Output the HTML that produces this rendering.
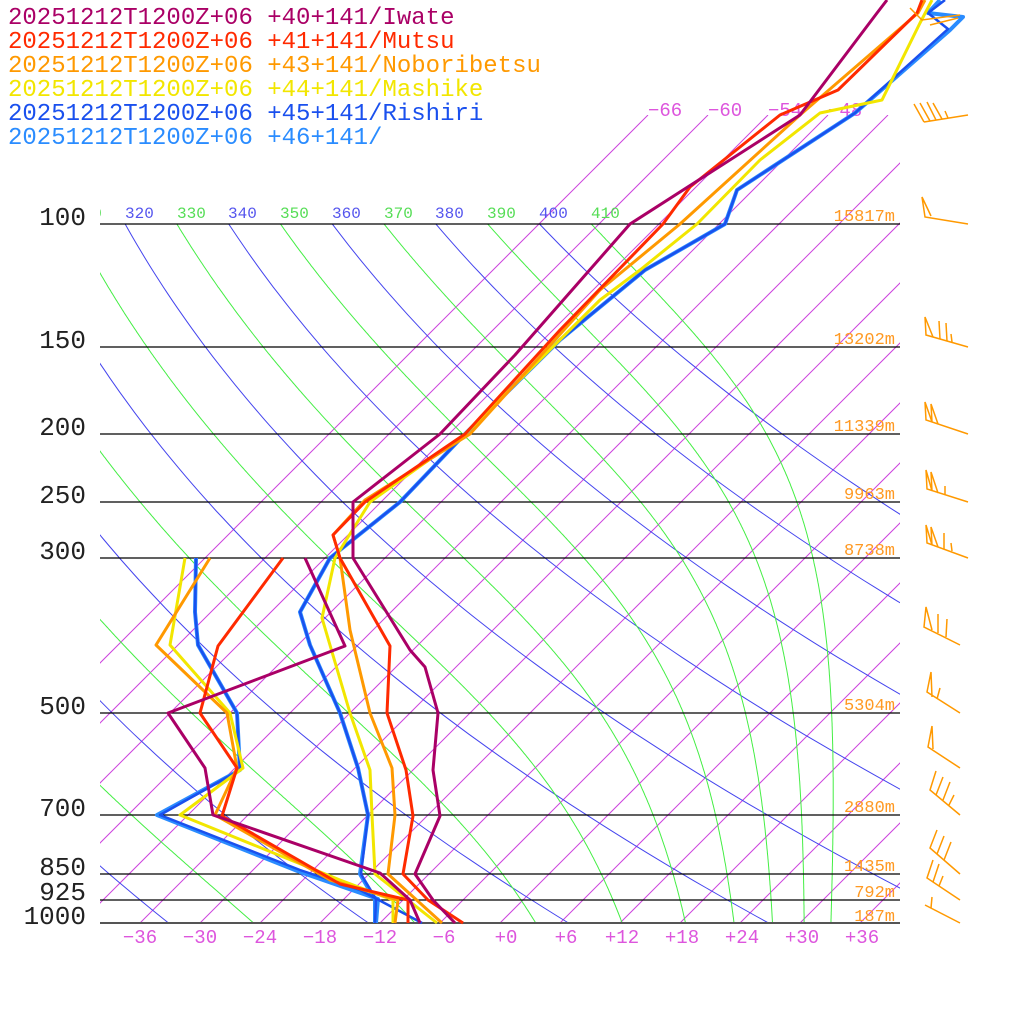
<!DOCTYPE html>
<html><head><meta charset="utf-8">
<style>
html,body{margin:0;padding:0;background:#fff;}
svg{display:block;}
text{font-family:"Liberation Mono",monospace;}
</style></head>
<body>
<svg id="s" width="1024" height="1024" viewBox="0 0 1024 1024" xmlns="http://www.w3.org/2000/svg">
<defs>
<clipPath id="ci"><rect x="100" y="115" width="800" height="808"/></clipPath>
<clipPath id="ct"><rect x="100" y="224" width="800" height="700"/></clipPath>
<clipPath id="cl"><rect x="100" y="190" width="820" height="40"/></clipPath>
</defs>
<g id="iso" clip-path="url(#ci)" stroke="#cc44dd" stroke-width="1" fill="none"></g>
<g id="the" clip-path="url(#ct)" fill="none" stroke-width="1"></g>
<g clip-path="url(#cl)" font-size="16">
<text x="73" y="218" fill="#55dd55">310</text>
<text x="125" y="218" fill="#5555ee">320</text>
<text x="177" y="218" fill="#55dd55">330</text>
<text x="228" y="218" fill="#5555ee">340</text>
<text x="280" y="218" fill="#55dd55">350</text>
<text x="332" y="218" fill="#5555ee">360</text>
<text x="384" y="218" fill="#55dd55">370</text>
<text x="435" y="218" fill="#5555ee">380</text>
<text x="487" y="218" fill="#55dd55">390</text>
<text x="539" y="218" fill="#5555ee">400</text>
<text x="591" y="218" fill="#55dd55">410</text>
</g>
<g font-size="19" fill="#dd55dd">
<text x="648" y="116">−66</text>
<text x="708" y="116">−60</text>
<text x="768" y="116">−54</text>
<text x="828" y="116">−48</text>
</g>
<g stroke="#000" stroke-width="1.3">
<line x1="100" y1="224" x2="900" y2="224"/>
<line x1="100" y1="347" x2="900" y2="347"/>
<line x1="100" y1="434" x2="900" y2="434"/>
<line x1="100" y1="502" x2="900" y2="502"/>
<line x1="100" y1="558" x2="900" y2="558"/>
<line x1="100" y1="713" x2="900" y2="713"/>
<line x1="100" y1="815" x2="900" y2="815"/>
<line x1="100" y1="874" x2="900" y2="874"/>
<line x1="100" y1="900" x2="900" y2="900"/>
<line x1="100" y1="923" x2="900" y2="923" stroke="#555" stroke-width="2"/>
</g>
<g font-size="26" fill="#222" text-anchor="end">
<text x="86" y="225">100</text>
<text x="86" y="348">150</text>
<text x="86" y="435">200</text>
<text x="86" y="503">250</text>
<text x="86" y="559">300</text>
<text x="86" y="714">500</text>
<text x="86" y="816">700</text>
<text x="86" y="875">850</text>
<text x="86" y="900">925</text>
<text x="86" y="924">1000</text>
</g>
<g font-size="17" fill="#ff9922" text-anchor="end">
<text x="895" y="221">15817m</text>
<text x="895" y="344">13202m</text>
<text x="895" y="431">11339m</text>
<text x="895" y="499">9963m</text>
<text x="895" y="555">8738m</text>
<text x="895" y="710">5304m</text>
<text x="895" y="812">2880m</text>
<text x="895" y="871">1435m</text>
<text x="895" y="897">792m</text>
<text x="895" y="921">187m</text>
</g>
<g font-size="19" fill="#dd55dd" text-anchor="middle">
<text x="140" y="943">−36</text>
<text x="200" y="943">−30</text>
<text x="260" y="943">−24</text>
<text x="320" y="943">−18</text>
<text x="380" y="943">−12</text>
<text x="444" y="943">−6</text>
<text x="506" y="943">+0</text>
<text x="566" y="943">+6</text>
<text x="622" y="943">+12</text>
<text x="682" y="943">+18</text>
<text x="742" y="943">+24</text>
<text x="802" y="943">+30</text>
<text x="862" y="943">+36</text>
</g>
<g fill="none" stroke-width="3" stroke-linejoin="round">
<polyline stroke="#2a8cff" stroke-width="4" points="940,0 928,13 963,17 950,30 855,113 737,190 725,224 645,270 560,340 465,434 400,502 330,558 300,612 310,645 340,713 358,768 368,815 360,874 375,900 375,923"/>
<polyline stroke="#2a8cff" stroke-width="4" points="196,558 195,612 198,645 237,713 240,770 157,815 300,872 378,899 376,923"/>
<polyline stroke="#1a50ee" stroke-width="2.5" points="945,0 928,13 948,29 855,113 737,190 725,224 645,270 560,340 465,434 400,502 330,558 300,612 310,645 340,713 358,768 368,815 361,874 376,899 375,923"/>
<polyline stroke="#1a50ee" stroke-width="2.5" points="196,558 195,612 198,645 237,713 240,770 160,815 300,870 360,890 422,923"/>
<polyline stroke="#f2e600" points="932,0 920,23 882,100 820,113 760,160 697,224 640,270 600,300 465,434 370,502 335,558 322,618 350,713 370,770 372,815 375,874 437,923"/>
<polyline stroke="#f2e600" points="185,558 170,645 230,713 243,768 180,815 340,880 393,900 393,923"/>
<polyline stroke="#ff9900" points="925,0 918,13 800,115 680,224 600,290 470,434 365,500 333,535 340,558 350,630 370,713 392,768 395,815 388,874 442,923"/>
<polyline stroke="#ff9900" points="210,558 156,645 227,713 237,768 215,815 330,880 398,900 395,923"/>
<polyline stroke="#ff2a00" points="922,0 917,13 838,90 780,115 690,187 663,224 560,330 465,434 365,502 333,535 340,558 390,646 387,713 406,770 413,816 403,874 428,900 463,923"/>
<polyline stroke="#ff2a00" points="283,558 218,646 200,713 237,768 222,816 340,884 408,900 408,923"/>
<polyline stroke="#aa0066" points="887,0 877,13 800,115 630,224 515,355 440,434 353,502 353,558 410,650 425,667 438,713 433,770 440,816 415,874 433,900 455,923"/>
<polyline stroke="#aa0066" points="305,558 345,646 168,713 205,768 213,815 380,873 410,900 420,923"/>
</g>
<g fill="none" stroke="#ff9900" stroke-width="1.5">
<polyline points="910,8 922,20 960,15"/><line x1="930" y1="25" x2="958" y2="18"/>
<polyline points="968,115 924,122"/><line x1="924" y1="122" x2="914" y2="104"/><line x1="930" y1="121" x2="920" y2="103"/><line x1="936" y1="120" x2="927" y2="102"/><line x1="942" y1="119" x2="933" y2="103"/><line x1="948" y1="118" x2="945" y2="111"/>
<polyline points="968,224 925,217 922,197 931,216"/>
<polyline points="968,347 926,335 925,317 933,337"/><line x1="940" y1="339" x2="939" y2="321"/><line x1="947" y1="341" x2="946" y2="323"/><line x1="952" y1="342" x2="951" y2="334"/>
<polyline points="968,434 926,420 925,402 932,422 931,404 938,424"/>
<polyline points="968,502 927,489 926,470 932,491 931,472 938,493"/><line x1="945" y1="495" x2="945" y2="486"/>
<polyline points="968,558 927,543 926,525 932,545 931,527 938,547"/><line x1="944" y1="549" x2="944" y2="533"/><line x1="952" y1="551" x2="951" y2="543"/>
<polyline points="960,645 924,627 926,607 932,630"/><line x1="938" y1="633" x2="938" y2="614"/><line x1="946" y1="637" x2="947" y2="619"/>
<polyline points="960,713 927,692 931,672 932,697"/><line x1="937" y1="699" x2="940" y2="688"/>
<polyline points="960,768 928,747 932,726 933,749"/>
<polyline points="960,815 930,790 936,771"/><line x1="936" y1="795" x2="943" y2="777"/><line x1="943" y1="800" x2="950" y2="782"/><line x1="949" y1="805" x2="954" y2="795"/>
<polyline points="960,874 930,848 937,830"/><line x1="937" y1="854" x2="944" y2="836"/><line x1="944" y1="860" x2="951" y2="842"/>
<polyline points="960,900 927,878 933,860"/><line x1="933" y1="882" x2="939" y2="864"/><line x1="939" y1="886" x2="943" y2="876"/>
<polyline points="960,923 925,905"/><line x1="931" y1="908" x2="932" y2="897"/>
</g>
<g font-size="24">
<text x="8" y="24" fill="#aa0066">20251212T1200Z+06 +40+141/Iwate</text>
<text x="8" y="48" fill="#ff2a00">20251212T1200Z+06 +41+141/Mutsu</text>
<text x="8" y="72" fill="#ff9900">20251212T1200Z+06 +43+141/Noboribetsu</text>
<text x="8" y="96" fill="#f2e600">20251212T1200Z+06 +44+141/Mashike</text>
<text x="8" y="120" fill="#1a50ee">20251212T1200Z+06 +45+141/Rishiri</text>
<text x="8" y="144" fill="#2a8cff">20251212T1200Z+06 +46+141/</text>
</g>
</svg>
<script>
(function(){
var NS="http://www.w3.org/2000/svg";
function Y(p){return 923-303.6*Math.log(1000/p);}
function X(T,y){return 500+10*T+(923-y);}
var iso=document.getElementById('iso');
for(var T=-66;T<=42;T+=6){
 var l=document.createElementNS(NS,'line');
 l.setAttribute('x1',X(T,923));l.setAttribute('y1',923);
 l.setAttribute('x2',X(T,115));l.setAttribute('y2',115);
 iso.appendChild(l);
}
var the=document.getElementById('the');
function rs(T,p){var tc=T-273.15;var es=6.112*Math.exp(17.67*tc/(tc+243.5));return 0.622*es/(p-es);}
for(var th=220;th<=400;th+=20){
 var pts=[];
 for(var i=0;i<=100;i++){
  var p=100*Math.pow(10,i/100);var y=Y(p);var T=th*Math.pow(p/1000,0.2857);
  pts.push(X(T-273.15,y).toFixed(1)+','+y.toFixed(1));
 }
 var pl=document.createElementNS(NS,'polyline');
 pl.setAttribute('points',pts.join(' '));pl.setAttribute('stroke','#4444ee');
 the.appendChild(pl);
}
for(var th=190;th<=410;th+=20){
 var p=100,T=th*Math.pow(0.1,0.2857),pts=[];
 var n=400,dl=Math.log(10)/n;
 for(var i=0;i<=n;i++){
  var y=Y(p);pts.push(X(T-273.15,y).toFixed(1)+','+y.toFixed(1));
  if(i==n)break;
  var r=rs(T,p);
  var g=(287*T+2.5e6*r)/(1005+2.5e6*2.5e6*r*0.622/(287*T*T));
  T+=g*dl;p=p*Math.exp(dl);
 }
 var pl=document.createElementNS(NS,'polyline');
 pl.setAttribute('points',pts.join(' '));pl.setAttribute('stroke','#44ee44');
 the.appendChild(pl);
}
})();
</script>
</body></html>
